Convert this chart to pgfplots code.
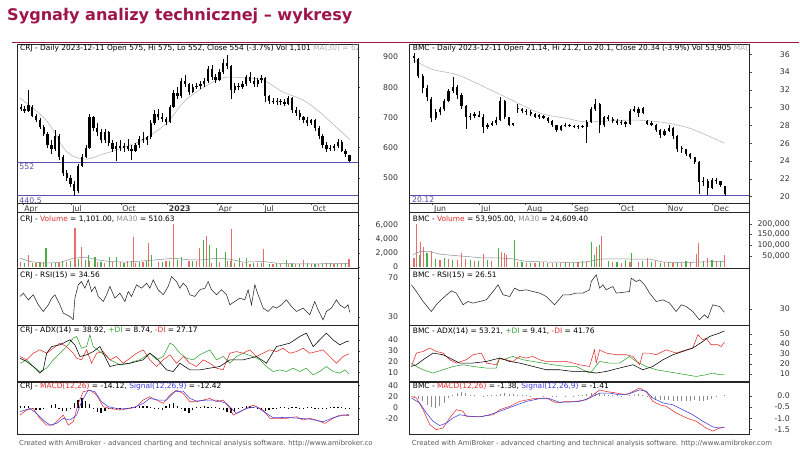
\documentclass[border=0pt]{standalone}
\usepackage{pgfplots}
\pgfplotsset{compat=1.18}
\usepackage{pgfplotstable}
\usepackage{fontspec}
\setmainfont{DejaVu Sans}
\definecolor{maroon}{RGB}{158,22,72}
\definecolor{amired}{RGB}{225,45,45}
\definecolor{amigreen}{RGB}{50,160,50}
\definecolor{amiblue}{RGB}{60,60,225}
\definecolor{volred}{RGB}{232,110,110}
\definecolor{volgreen}{RGB}{70,175,70}
\definecolor{magray}{RGB}{175,175,175}
\definecolor{lvl}{RGB}{90,80,175}
\newcommand{\fs}{\fontsize{7.45}{9}\selectfont}
\newcommand{\ts}{\fontsize{7.8}{9}\selectfont}

% ---------- CRJ ----------
\pgfplotstableread{
d o h l c
5 735 745 722 728
10 728 738 715 720
15 722 791 718 740
20 735 740 700 705
25 705 712 685 690
30 690 698 660 668
35 668 675 640 645
40 645 650 600 610
45 610 625 580 595
50 595 659 590 640
55 640 645 560 570
60 570 575 505 515
65 515 525 490 500
70 500 510 470 480
75 480 490 441 455
80 455 545 450 540
85 540 580 535 570
90 570 610 565 600
95 600 711 595 700
100 700 705 655 665
105 665 680 640 650
110 650 660 615 625
115 625 660 615 650
120 650 655 605 615
125 615 625 585 595
130 595 620 555 605
135 605 625 590 600
140 600 615 585 605
145 605 630 590 595
150 595 610 560 590
155 590 615 585 610
160 610 640 600 630
165 630 650 615 625
170 625 640 610 635
175 635 690 630 680
180 680 725 675 710
185 710 728 690 700
190 700 715 685 695
195 695 700 675 685
200 685 740 680 735
205 735 790 730 780
210 780 800 760 770
215 770 830 765 820
220 820 840 800 810
225 810 815 775 785
230 785 810 780 800
235 800 815 795 805
240 805 820 795 810
245 810 830 800 820
250 820 870 815 860
255 860 875 825 835
260 835 845 815 825
265 825 860 820 850
270 850 893 845 880
275 880 907 860 870
280 870 875 760 790
285 790 815 780 805
290 805 815 790 800
295 800 820 795 810
300 810 840 805 835
305 835 850 815 820
310 820 835 800 810
315 810 830 800 825
320 825 840 815 830
325 830 835 750 770
330 770 775 745 755
335 755 765 745 750
340 750 765 740 755
345 755 762 742 750
350 750 760 738 745
355 745 770 740 765
360 765 768 715 725
365 725 735 705 715
370 715 725 690 700
375 700 705 680 690
380 690 700 670 680
385 680 695 675 690
390 690 695 655 665
395 665 670 630 640
400 640 645 600 610
405 610 620 585 595
410 595 610 590 600
415 600 612 590 605
420 605 630 600 620
425 620 625 585 590
430 590 595 570 580
435 575 575 552 554
}\crj
\pgfplotstableread{
d v
4 764
34 702
47 659
60 602
73 572
92 562
112 578
135 596
165 626
196 681
217 748
239 791
269 831
296 831
322 824
348 784
374 758
396 718
419 665
436 626
}\crjma
\pgfplotstableread{
d v
5 700
14.8 1700
25 500
35 650
45 550
55 600
65 700
75.8 5520
77.1 3143
84.5 2900
95 800
105 700
115 600
125 650
135 700
145 800
152.1 4333
155 600
165 700
171.7 3381
185 700
195 800
204.4 6097
215 700
225 800
235 900
239.3 2667
248 4476
255 600
265 700
275 800
280.7 5429
285 600
295 500
305 450
315 500
322.2 2524
335 400
345 450
355 350
365 400
374.5 1000
385 450
395 400
405 500
415 450
425 500
434.6 1101
}\crjvr
\pgfplotstableread{
d v
10 500
20 600
30 700
37.9 2760
50 600
60 800
70 900
75 4810
80 1100
90 1000
93.3 1714
102 1476
110 700
121.6 1476
130.3 1476
140 600
150 800
160 700
170 900
176.1 1714
190 700
200 900
210 1000
215.3 1476
230 900
244.6 3857
252.4 3143
261.1 2667
273.3 2190
280 800
291.6 1238
300.4 1238
310 500
320 600
330 400
340 500
352.7 1000
360 450
370 400
380 500
390 400
400 450
410 500
420 400
430 500
}\crjvg
\pgfplotstableread{
d v
3.9 1238
17 762
34.4 524
56.2 619
73.6 1238
91.1 1381
104.2 1000
121.6 762
143.4 667
165.2 857
182.6 1000
204.4 1238
226.2 1000
243.7 1000
261.1 1238
278.6 1095
296 667
322.2 762
339.6 524
365.8 429
392 429
435.5 510
}\crjvma
\pgfplotstableread{
d v
3.9 50.9
8.2 54.3
14.8 47.4
21.3 52.6
27.9 42.3
34.4 35.5
41 42.3
45.3 49.1
49.7 52.6
56.2 42.3
60.6 33.7
69.3 30.3
73.6 26.9
75.8 49.1
80.2 62.8
84.5 66.2
88.9 59.4
93.3 67.9
97.6 56
102 61.1
106.3 50.9
112.9 45.7
117.2 52.6
121.6 61.1
128.1 49.1
134.7 54.3
141.2 45.7
145.6 56
149.9 50.9
156.5 62.8
163 59.4
169.6 64.5
173.9 59.4
178.3 67.9
184.8 57.7
191.4 52.6
197.9 61.1
202.3 71.4
208.8 66.2
213.2 59.4
217.5 64.5
221.9 61.1
226.2 52.6
232.8 50.9
239.3 57.7
245.9 59.4
250.2 66.2
254.6 57.7
261.1 52.6
267.7 57.7
274.2 52.6
278.6 42.3
285.1 45.7
291.6 49.1
298.2 47.4
302.5 57.7
306.9 42.3
311.3 62.8
315.6 52.6
322.2 38.9
328.7 35.5
335.2 40.6
339.6 38.9
346.1 42.3
352.7 47.4
359.2 40.6
365.8 35.5
374.5 38.9
383.2 32
389.7 45.7
394.1 37.2
400.6 26.9
405 35.5
411.5 38.9
418.1 47.4
422.4 42.3
429 38.9
433.3 42.3
435.5 34.6
}\crjrsi
\pgfplotstableread{
d v
3.9 23.1
12.6 20.1
21.3 15.5
30.0 9.4
34.4 12.4
38.8 27.7
45.3 33.8
56.2 35.4
69.3 40.0
75.8 35.4
82.4 24.7
91.1 26.2
99.8 29.2
108.5 33.8
117.2 21.6
121.6 15.5
130.3 17.0
147.8 18.5
165.2 21.6
173.9 27.7
182.6 23.1
195.7 12.4
204.4 10.9
213.2 18.5
226.2 12.4
239.3 12.4
252.4 14.0
265.5 15.5
278.6 21.6
296.0 21.6
313.4 24.7
326.5 18.5
339.6 33.8
357.0 36.9
370.1 43.0
378.8 46.1
387.6 33.8
396.3 40.0
405.0 46.1
413.7 40.0
422.4 35.4
431.2 38.4
434.6 38.9
}\crjadx
\pgfplotstableread{
d v
3.9 18.5
12.6 21.6
21.3 15.5
30.0 10.9
38.8 14.0
47.5 21.6
56.2 27.7
64.9 33.8
73.6 41.5
78.0 43.0
84.5 32.3
91.1 33.8
95.4 44.5
99.8 33.8
108.5 29.2
117.2 24.7
121.6 21.6
134.7 17.0
147.8 18.5
152.1 20.1
160.8 21.6
173.9 27.7
182.6 21.6
191.4 24.7
200.1 36.9
204.4 35.4
213.2 27.7
221.9 23.1
230.6 21.6
239.3 26.2
252.4 30.8
261.1 21.6
269.8 24.7
278.6 18.5
287.3 24.7
296.0 27.7
309.1 24.7
317.8 21.6
326.5 15.5
335.2 10.9
344.0 12.4
352.7 10.9
361.4 14.0
370.1 10.9
378.8 14.0
387.6 7.8
396.3 10.9
405.0 15.5
413.7 10.9
422.4 9.4
429.0 12.4
434.6 8.7
}\crjpdi
\pgfplotstableread{
d v
3.9 24.7
12.6 21.6
21.3 27.7
30.0 30.8
38.8 27.7
47.5 32.3
56.2 36.9
64.9 33.8
73.6 27.7
78.0 23.1
84.5 21.6
91.1 30.8
97.6 18.5
104.2 27.7
112.9 29.2
121.6 21.6
130.3 24.7
139.0 18.5
147.8 23.1
156.5 27.7
165.2 30.8
173.9 21.6
182.6 15.5
191.4 21.6
200.1 26.2
208.8 18.5
217.5 24.7
226.2 18.5
235.0 15.5
243.7 21.6
252.4 18.5
261.1 14.0
269.8 12.4
278.6 27.7
287.3 29.2
296.0 27.7
304.7 30.8
313.4 24.7
322.2 27.7
330.9 30.8
339.6 29.2
348.3 32.3
357.0 27.7
365.8 29.2
374.5 32.3
383.2 27.7
391.9 29.2
400.6 30.8
409.4 24.7
418.1 18.5
426.8 24.7
434.6 27.2
}\crjmdi
\pgfplotstableread{
d v
3.9 -13.2
12.6 -4.2
21.3 -1.2
30.0 -19.2
38.8 -31.2
47.5 -31.2
56.2 -19.2
60.6 -13.2
67.1 -31.2
73.6 -25.2
80.2 7.8
86.7 28.8
95.4 31.8
104.2 22.8
112.9 1.8
121.6 -1.2
134.7 -4.2
147.8 -1.2
156.5 1.8
165.2 13.8
173.9 19.8
182.6 13.8
191.4 7.8
200.1 22.8
208.8 31.8
217.5 25.8
226.2 10.8
235.0 10.8
243.7 13.8
252.4 16.8
261.1 10.8
269.8 13.8
278.6 -1.2
282.9 -13.2
291.6 -7.2
300.4 -1.2
309.1 4.8
322.2 -4.2
330.9 -19.2
339.6 -19.2
352.7 -19.2
365.8 -16.2
374.5 -22.2
383.2 -19.2
391.9 -22.2
402.8 -28.2
413.7 -19.2
422.4 -13.2
434.6 -14.1
}\crjmacd
\pgfplotstableread{
d v
3.9 -7.2
17.0 -1.2
25.7 -10.2
34.4 -22.2
43.1 -31.2
51.8 -28.2
60.6 -19.2
69.3 -22.2
78.0 -13.2
84.5 10.8
93.3 31.8
102.0 28.8
110.7 10.8
119.4 1.8
134.7 -2.4
152.1 0
165.2 7.8
173.9 16.8
184.8 13.8
195.7 13.8
206.6 28.8
217.5 30.0
226.2 16.8
235.0 12.0
248.0 13.8
261.1 13.8
274.2 7.8
287.3 -10.2
300.4 -1.2
313.4 1.8
326.5 -10.2
335.2 -18.0
352.7 -17.4
370.1 -19.2
383.2 -20.4
400.6 -25.2
413.7 -18.0
426.8 -13.2
434.6 -12.4
}\crjsig
\pgfplotstableread{
d v
5 4
10 4
15 3
20 -2
25 -4
30 -4
35 -3
40 0
45 5
50 7
55 -3
60 -6
65 -5
70 -2
75 8
80 14
85 17
90 12
95 6
100 -3
105 -8
110 -10
115 -6
120 -3
125 -2
130 -1
135 -1
140 0
145 -1
150 1
155 2
160 3
165 4
170 4
175 2
180 -1
185 -2
190 -4
195 3
200 6
205 8
210 4
215 -2
220 -6
225 -9
230 -4
235 1
240 2
245 3
250 2
255 1
260 2
265 -1
270 -4
275 -7
280 -10
285 -8
290 -3
295 2
300 3
305 3
310 2
315 -1
320 -4
325 -6
330 -4
335 -2
340 -1
345 1
350 1
355 -1
360 2
365 1
370 -1
375 -2
380 1
385 1
390 -1
395 -2
400 -3
405 -2
410 1
415 2
420 2
425 1
430 -1
435 -2
}\crjhist

% ---------- BMC ----------
\pgfplotstableread{
d o h l c
2 35.6 36.1 35.0 35.8
4 35.5 35.6 33.3 33.6
6 33.6 33.8 31.6 32.2
8 32.2 32.6 30.8 31.2
10 31.0 31.2 28.4 28.8
12 28.8 29.8 28.6 29.5
14 29.5 30.1 29.2 29.8
16 29.8 31.0 29.6 30.8
18 30.8 32.1 30.6 31.9
20 31.9 33.5 31.6 32.3
22 32.3 32.6 31.0 31.4
24 31.4 31.6 29.9 30.2
26 30.2 30.3 27.6 28.9
28 28.9 29.4 28.6 29.1
30 29.1 29.5 28.8 29.2
32 29.2 29.6 28.9 29.0
34 29.0 29.3 27.2 27.8
36 27.8 28.3 27.6 28.1
38 28.1 28.5 27.9 28.3
40 28.3 28.9 28.1 28.6
42 28.6 31.2 28.5 30.8
44 30.8 30.9 28.7 28.9
46 28.9 29.0 27.9 28.1
48 28.1 28.3 27.9 28.2
50 29.8 30.4 29.4 29.9
52 29.9 30.0 29.4 29.6
54 29.6 29.8 29.2 29.5
56 29.5 29.7 29.1 29.3
58 29.3 29.4 28.8 29.0
60 29.0 29.3 28.7 29.1
62 29.1 29.2 28.7 28.8
64 28.8 29.0 28.3 28.5
66 28.5 28.6 27.8 28.0
68 28.0 28.1 27.3 27.5
70 27.5 28.0 27.4 27.9
72 27.9 28.3 27.8 28.1
74 28.1 28.2 27.8 27.9
76 27.9 28.0 27.7 27.8
78 27.8 28.0 27.6 27.9
80 27.9 28.1 27.7 27.8
82 27.8 28.6 26.0 28.4
84 28.4 30.1 28.3 29.8
86 29.8 31.0 29.6 30.4
88 30.4 30.5 27.2 28.0
90 28.0 29.1 27.8 28.9
92 28.9 29.2 28.5 28.7
94 28.7 28.9 28.3 28.5
96 28.5 28.7 28.1 28.3
98 28.3 28.6 28.1 28.4
100 28.4 28.5 27.8 28.2
102 28.2 29.8 28.1 29.6
104 29.6 30.2 29.5 29.9
106 29.9 30.1 29.0 29.4
108 29.4 30.1 29.3 30.0
110 28.5 28.6 28.0 28.2
112 28.2 28.5 27.9 28.1
114 28.1 28.2 27.3 27.5
116 27.5 27.6 26.6 26.9
118 26.9 27.6 26.8 27.4
120 27.4 28.0 27.3 27.7
122 27.7 27.8 26.5 26.8
124 26.8 26.9 25.0 25.4
126 25.4 25.7 24.9 25.3
128 25.3 25.4 24.6 24.8
130 24.8 24.9 24.2 24.4
132 24.4 24.5 23.7 23.9
134 23.9 24.0 20.3 21.6
136 21.6 22.2 21.2 21.8
138 21.8 22.0 20.2 21.0
140 21.0 22.1 20.9 21.9
142 21.9 22.1 21.4 21.7
144 21.7 21.8 21.1 21.3
146 21.14 21.2 20.1 20.34
}\bmc
\pgfplotstableread{
d v
1.4 35.4
10.6 34.3
23.1 33.6
41.7 31.5
60.2 29.4
72.7 28.8
81.9 28.4
103.2 28.6
115.7 28.4
128.2 27.8
137.5 26.9
145.8 26.0
}\bmcma
\pgfplotstableread{
d v
2 40000
3.1 198000
5.1 114000
6.2 93500
10 73400
14 30000
18 35000
22 30000
23.9 62600
26 35000
30 25000
34 58000
38 25000
42.4 67000
44 62600
45 55000
50 20000
54 18000
58 15000
62 20000
66 15000
70 18000
74 15000
78 20000
82 25000
86.4 93500
88.7 142000
94 20000
98 18000
102 22000
106 20000
110 38000
114 25000
118 20000
122 18000
126 15000
130 20000
132.7 58000
133.8 112000
138.1 38000
142 25000
145.8 53905
}\bmcvr
\pgfplotstableread{
d v
4.6 54700
8 62600
12 35000
16 40000
20 30000
24 35000
28 30000
32 25000
36 30000
41.2 86000
48.6 125000
52 20000
56 15000
60 20000
64 18000
68 15000
72 20000
76 18000
80 25000
84.1 117000
85.6 55000
88 101000
92 25000
96 20000
100 30000
102.9 62600
108 25000
112 20000
116 18000
120 22000
124 20000
128 25000
136 25000
140 30000
144 25000
}\bmcvg
\pgfplotstableread{
d v
1.5 54700
4.6 70000
9.3 70000
13.9 58000
20.1 52000
26.2 47000
34 40000
41.7 40000
47.8 36000
54 24000
64.8 21000
75.6 19000
81.8 21000
88 35000
95.7 36000
103.4 35000
111.1 35000
117.3 21000
126.5 18000
134.2 21000
145.8 24609
}\bmcvma
\pgfplotstableread{
d v
0.8 54.0
3.1 47.3
6.2 37.3
10.0 27.3
12.3 34.0
15.4 40.7
19.3 48.0
21.6 45.7
24.7 34.0
27.0 37.3
29.3 35.7
32.4 37.3
35.5 39.0
38.6 47.3
40.9 54.0
43.2 44.0
46.3 42.3
48.6 50.7
50.9 48.0
54.0 49.0
57.1 47.3
60.2 45.7
63.3 42.3
67.1 34.0
71.0 44.0
74.1 44.0
77.1 45.7
80.2 45.7
83.3 49.0
84.1 57.3
86.4 64.0
88.0 50.7
89.5 54.0
91.0 49.0
94.1 52.3
95.7 45.7
101.8 47.3
102.6 60.7
104.9 57.3
106.5 59.0
108.8 54.0
111.1 45.7
114.2 37.3
117.3 39.0
120.4 35.7
123.4 27.3
125.8 34.0
128.1 32.3
131.1 27.3
134.2 19.0
136.5 24.0
138.1 20.7
140.4 34.0
143.5 32.3
145.8 26.5
}\bmcrsi
\pgfplotstableread{
d v
0.8 17.6
3.1 19.3
6.2 24.3
10.8 31.0
15.4 29.3
20.1 24.3
23.1 21.0
29.3 21.0
35.5 22.6
41.7 26.0
46.3 22.6
50.9 21.0
57.1 17.6
63.3 14.3
69.4 14.3
75.6 12.6
81.8 12.6
86.4 11.0
91.0 12.6
97.2 16.0
103.4 19.3
108.0 14.3
112.6 17.6
117.3 24.3
121.9 29.3
126.5 32.6
131.1 36.0
135.8 42.6
138.9 47.6
143.5 51.0
145.8 53.2
}\bmcadx
\pgfplotstableread{
d v
0.8 21.0
3.1 17.6
6.2 14.3
10.8 11.0
15.4 14.3
20.1 17.6
24.7 19.3
29.3 17.6
35.5 16.0
40.1 16.0
41.7 26.0
43.2 24.3
47.8 27.6
52.5 24.3
57.1 22.6
61.7 21.0
66.4 19.3
72.5 17.6
77.1 17.6
81.8 12.6
83.3 11.0
84.9 14.3
88.0 22.6
92.6 21.0
97.2 21.0
101.8 27.6
104.9 22.6
109.5 17.6
114.2 14.3
118.8 12.6
123.4 11.0
128.1 9.3
132.7 7.6
137.3 9.3
140.4 11.0
143.5 9.3
145.8 9.4
}\bmcpdi
\pgfplotstableread{
d v
0.8 17.6
3.1 31.0
6.2 32.6
9.3 36.0
12.3 32.6
15.4 31.0
18.5 24.3
21.6 21.0
26.2 24.3
29.3 29.3
33.2 31.0
35.5 21.0
40.1 19.3
41.7 26.0
44.7 24.3
47.8 22.6
50.9 27.6
54.0 26.0
57.1 27.6
60.2 24.3
63.3 22.6
67.9 22.6
72.5 22.6
75.6 21.0
78.7 19.3
83.3 17.6
85.6 34.3
86.4 21.0
88.0 34.3
91.0 31.0
95.7 29.3
100.3 29.3
103.4 27.6
106.5 19.3
108.0 31.0
111.1 31.0
114.2 29.3
118.8 34.3
123.4 31.0
128.1 34.3
131.1 36.0
133.5 49.3
135.8 44.3
137.3 46.0
139.6 39.3
142.7 39.3
144.3 37.6
145.8 41.8
}\bmcmdi
\pgfplotstableread{
d v
0.8 -0.03
3.1 -0.10
6.2 -0.62
9.3 -1.28
12.3 -1.50
15.4 -1.43
18.5 -0.98
21.6 -0.62
24.7 -0.69
26.2 -0.91
29.3 -0.91
33.9 -0.91
38.6 -0.84
41.7 -0.62
46.3 -0.47
50.9 -0.25
57.1 -0.13
63.3 -0.10
67.9 -0.32
72.5 -0.25
77.1 -0.25
81.8 -0.18
84.9 0.04
88.0 0.26
91.0 0.19
95.7 0.12
100.3 0.04
103.4 0.19
106.5 0.34
109.5 0.19
112.6 -0.25
115.7 -0.40
118.8 -0.47
123.4 -0.76
128.1 -0.98
132.7 -1.13
137.3 -1.43
140.4 -1.57
143.5 -1.43
145.8 -1.38
}\bmcmacd
\pgfplotstableread{
d v
0.8 -0.10
4.6 -0.32
7.7 -0.76
10.8 -1.13
13.9 -1.32
17.0 -1.21
20.1 -0.98
23.1 -0.84
27.8 -0.91
32.4 -0.94
37.0 -0.84
41.7 -0.69
47.8 -0.47
54.0 -0.25
60.2 -0.13
64.8 -0.13
69.4 -0.29
74.1 -0.28
78.7 -0.25
83.3 -0.10
88.0 0.12
92.6 0.12
97.2 0.04
101.8 0.09
106.5 0.26
109.5 0.19
112.6 -0.10
117.3 -0.32
121.9 -0.40
126.5 -0.62
131.1 -0.84
135.8 -1.13
140.4 -1.38
143.5 -1.43
145.8 -1.41
}\bmcsig
\pgfplotstableread{
d v
2 -0.05
4 -0.15
6 -0.25
8 -0.4
10 -0.5
12 -0.55
14 -0.45
16 -0.3
18 -0.1
20 0.05
22 0.12
24 0.15
26 0.1
28 0.05
30 0.02
32 0.0
34 -0.02
36 0.02
38 0.03
40 0.05
42 0.08
44 0.1
46 0.08
48 0.06
50 0.05
52 0.04
54 0.02
56 0.01
58 0.0
60 0.0
62 0.01
64 0.0
66 -0.03
68 -0.02
70 0.0
72 0.01
74 0.0
76 0.01
78 0.03
80 0.05
82 0.08
84 0.1
86 0.12
88 0.12
90 0.08
92 0.05
94 0.03
96 0.02
98 0.01
100 0.0
102 0.02
104 0.04
106 0.06
108 0.03
110 -0.05
112 -0.12
114 -0.18
116 -0.2
118 -0.18
120 -0.2
122 -0.22
124 -0.25
126 -0.25
128 -0.25
130 -0.22
132 -0.2
134 -0.22
136 -0.25
138 -0.2
140 -0.15
142 -0.05
144 0.0
146 0.03
}\bmchist

% candle helper columns (wick length, body bottom, body length)
\pgfplotstablecreatecol[create col/expr={\thisrow{h}-\thisrow{l}}]{hl}{\crj}
\pgfplotstablecreatecol[create col/expr={min(\thisrow{o},\thisrow{c})}]{bb}{\crj}
\pgfplotstablecreatecol[create col/expr={max(abs(\thisrow{o}-\thisrow{c}),4)}]{bl}{\crj}
\pgfplotstablecreatecol[create col/expr={\thisrow{h}-\thisrow{l}}]{hl}{\bmc}
\pgfplotstablecreatecol[create col/expr={min(\thisrow{o},\thisrow{c})}]{bb}{\bmc}
\pgfplotstablecreatecol[create col/expr={max(abs(\thisrow{o}-\thisrow{c}),0.14)}]{bl}{\bmc}

\pgfplotsset{
  pane/.style={
    scale only axis, clip=true, anchor=north west,
    axis line style={black!85, line width=0.5pt},
    xtick=\empty,
    ytick pos=right, yticklabel pos=right,
    tick align=outside, major tick length=2.5pt,
    tick style={black!70, line width=0.4pt},
    yticklabel style={anchor=east, xshift=38pt, font=\ts, text=black!80, inner sep=0pt},
    xticklabel style={anchor=north west, xshift=1.2pt, font=\ts, text=black!80, inner sep=0pt},
    scaled y ticks=false,
  },
  L/.style={pane, width=341pt, xmin=0, xmax=446},
  R/.style={pane, width=340pt, xmin=0, xmax=157.4},
  wick/.style={black, only marks, mark=*, mark size=0.1pt, mark options={opacity=0}, error bars/y dir=plus, error bars/y explicit, error bars/error mark=none, error bars/error bar style={line width=0.5pt, black, opacity=1}},
}

\begin{document}
\begin{tikzpicture}
\path (0,0) rectangle (800pt,-451pt);
\node[anchor=base west, inner sep=0pt, text=maroon, font=\fontsize{16.1}{18}\selectfont\bfseries] at (7pt,-21pt) {Sygnały analizy technicznej – wykresy};

% ================= LEFT (CRJ) =================
\begin{axis}[L, at={(17pt,-44pt)}, height=159pt, ymin=417, ymax=943,
  ytick={500,600,700,800,900}, yticklabels={500,600,700,800,900},
  xtick={7.8,70.6,136,197,262,322,385}, xtick pos=bottom,
  xticklabels={Apr,Jul,Oct,\textbf{2023},Apr,Jul,Oct}]
\addplot[lvl, line width=0.6pt] coordinates {(0,552) (446,552)};
\addplot[lvl, line width=0.6pt] coordinates {(0,440.5) (446,440.5)};
\addplot[magray, line width=0.5pt, smooth] table[x=d,y=v] {\crjma};
\addplot[wick] table[x=d, y=l, y error=hl] {\crj};
\addplot[wick, error bars/error bar style={line width=2.3pt}] table[x=d, y=bb, y error=bl] {\crj};
\node[anchor=north west, inner sep=0pt, text=lvl, font=\ts] at (axis cs:3,548) {552};
\node[anchor=north west, inner sep=0pt, text=lvl, font=\ts] at (axis cs:3,436) {440.5};
\end{axis}
\draw[black!85, line width=0.5pt] (17pt,-203pt) rectangle (358pt,-212pt);

\begin{axis}[L, at={(17pt,-212pt)}, height=56pt, ymin=-143, ymax=7857,
  ytick={0,2000,4000,6000}, yticklabels={0,{2,000},{4,000},{6,000}}]
\addplot[ycomb, volgreen, line width=1.2pt, mark=none] table[x=d,y=v] {\crjvg};
\addplot[ycomb, volred, line width=1.2pt, mark=none] table[x=d,y=v] {\crjvr};
\addplot[black!45, line width=0.5pt] table[x=d,y=v] {\crjvma};
\end{axis}

\begin{axis}[L, at={(17pt,-268pt)}, height=57pt, ymin=21.8, ymax=80.3, ytick={30,70}, yticklabels={30,70}]
\addplot[black!85, line width=0.55pt] table[x=d,y=v] {\crjrsi};
\end{axis}

\begin{axis}[L, at={(17pt,-325pt)}, height=57pt, ymin=1.5, ymax=53.8, ytick={10,20,30,40}, yticklabels={10,20,30,40}]
\addplot[amigreen, line width=0.55pt] table[x=d,y=v] {\crjpdi};
\addplot[amired, line width=0.55pt] table[x=d,y=v] {\crjmdi};
\addplot[black, line width=0.55pt] table[x=d,y=v] {\crjadx};
\end{axis}

\begin{axis}[L, at={(17pt,-382pt)}, height=53pt, ymin=-48.6, ymax=46.8, ytick={-20,0,20,40}, yticklabels={-20,0,20,40}]
\addplot[ycomb, black, line width=1.3pt, mark=none] table[x=d,y=v] {\crjhist};
\addplot[amired, line width=0.55pt] table[x=d,y=v] {\crjmacd};
\addplot[amiblue, line width=0.55pt] table[x=d,y=v] {\crjsig};
\end{axis}

% ================= RIGHT (BMC) =================
\begin{axis}[R, at={(410pt,-44pt)}, height=159pt, ymin=19.29, ymax=37.16,
  ytick={20,22,24,26,28,30,32,34,36}, yticklabels={20,22,24,26,28,30,32,34,36},
  xtick={10.6,32.4,53.7,75.5,97.2,119,140.3}, xtick pos=bottom,
  xticklabels={Jun,Jul,Aug,Sep,Oct,Nov,Dec}]
\addplot[lvl, line width=0.6pt] coordinates {(0,20.12) (157.4,20.12)};
\addplot[magray, line width=0.5pt, smooth] table[x=d,y=v] {\bmcma};
\addplot[wick] table[x=d, y=l, y error=hl] {\bmc};
\addplot[wick, error bars/error bar style={line width=2.2pt}] table[x=d, y=bb, y error=bl] {\bmc};
\node[anchor=north west, inner sep=0pt, text=lvl, font=\ts] at (axis cs:1,20.05) {20.12};
\end{axis}
\draw[black!85, line width=0.5pt] (410pt,-203pt) rectangle (750pt,-212pt);

\begin{axis}[R, at={(410pt,-212pt)}, height=56pt, ymin=-6000, ymax=255600,
  ytick={50000,100000,150000,200000}, yticklabels={{50,000},{100,000},{150,000},{200,000}}]
\addplot[ycomb, volgreen, line width=1.2pt, mark=none] table[x=d,y=v] {\bmcvg};
\addplot[ycomb, volred, line width=1.2pt, mark=none] table[x=d,y=v] {\bmcvr};
\addplot[black!45, line width=0.5pt] table[x=d,y=v] {\bmcvma};
\end{axis}

\begin{axis}[R, at={(410pt,-268pt)}, height=57pt, ymin=14, ymax=71, ytick={30}, yticklabels={30}]
\addplot[black!85, line width=0.55pt] table[x=d,y=v] {\bmcrsi};
\end{axis}

\begin{axis}[R, at={(410pt,-325pt)}, height=57pt, ymin=2.3, ymax=59.3, ytick={10,20,30,40,50}, yticklabels={10,20,30,40,50}]
\addplot[amigreen, line width=0.55pt] table[x=d,y=v] {\bmcpdi};
\addplot[amired, line width=0.55pt] table[x=d,y=v] {\bmcmdi};
\addplot[black, line width=0.55pt] table[x=d,y=v] {\bmcadx};
\end{axis}

\begin{axis}[R, at={(410pt,-382pt)}, height=53pt, ymin=-1.726, ymax=0.62,
  ytick={-1.5,-1,-0.5,0}, yticklabels={-1.5,-1.0,-0.5,0.0}]
\addplot[ycomb, black!45, line width=0.9pt, mark=none] table[x=d,y=v] {\bmchist};
\addplot[amired, line width=0.55pt] table[x=d,y=v] {\bmcmacd};
\addplot[amiblue, line width=0.55pt] table[x=d,y=v] {\bmcsig};
\end{axis}

% ---------- headers (clipped to pane width) ----------
\begin{scope}
\clip (17pt,-44pt) rectangle (357.5pt,-440pt);
\node[anchor=west, inner sep=0pt, font=\fs] at (20pt,-48pt) {CRJ - Daily 2023-12-11 Open 575, Hi 575, Lo 552, Close 554 (-3.7\%) Vol 1,101 \textcolor{magray}{MA(30) = 626}};
\node[anchor=west, inner sep=0pt, font=\fs] at (20pt,-219.5pt) {CRJ - \textcolor{amired}{Volume} = 1,101.00, \textcolor{black!45}{MA30} = 510.63};
\node[anchor=west, inner sep=0pt, font=\fs] at (20pt,-275.5pt) {CRJ - RSI(15) = 34.56};
\node[anchor=west, inner sep=0pt, font=\fs] at (20pt,-331pt) {CRJ - ADX(14) = 38.92, \textcolor{amigreen}{+DI} = 8.74, \textcolor{amired}{-DI} = 27.17};
\node[anchor=west, inner sep=0pt, font=\fs] at (20pt,-387pt) {CRJ - \textcolor{amired}{MACD(12,26)} = -14.12, \textcolor{amiblue}{Signal(12,26,9)} = -12.42};
\end{scope}
\begin{scope}
\clip (410pt,-44pt) rectangle (749.5pt,-440pt);
\node[anchor=west, inner sep=0pt, font=\fs] at (413pt,-48pt) {BMC - Daily 2023-12-11 Open 21.14, Hi 21.2, Lo 20.1, Close 20.34 (-3.9\%) Vol 53,905 \textcolor{magray}{MA(30)}};
\node[anchor=west, inner sep=0pt, font=\fs] at (413pt,-219.5pt) {BMC - \textcolor{amired}{Volume} = 53,905.00, \textcolor{black!45}{MA30} = 24,609.40};
\node[anchor=west, inner sep=0pt, font=\fs] at (413pt,-275.5pt) {BMC - RSI(15) = 26.51};
\node[anchor=west, inner sep=0pt, font=\fs] at (413pt,-331pt) {BMC - ADX(14) = 53.21, \textcolor{amigreen}{+DI} = 9.41, \textcolor{amired}{-DI} = 41.76};
\node[anchor=west, inner sep=0pt, font=\fs] at (413pt,-387pt) {BMC - \textcolor{amired}{MACD(12,26)} = -1.38, \textcolor{amiblue}{Signal(12,26,9)} = -1.41};
\end{scope}

\draw[maroon, line width=1.1pt] (12pt,-42.5pt) -- (800pt,-42.5pt);

\begin{scope}
\clip (0pt,-436pt) rectangle (372pt,-451pt);
\node[anchor=west, inner sep=0pt, text=black!65, font=\fontsize{6.9}{8}\selectfont] at (19pt,-443.5pt) {Created with AmiBroker - advanced charting and technical analysis software. http://www.amibroker.com};
\end{scope}
\node[anchor=west, inner sep=0pt, text=black!65, font=\fontsize{6.9}{8}\selectfont] at (412pt,-443.5pt) {Created with AmiBroker - advanced charting and technical analysis software. http://www.amibroker.com};
\end{tikzpicture}
\end{document}
